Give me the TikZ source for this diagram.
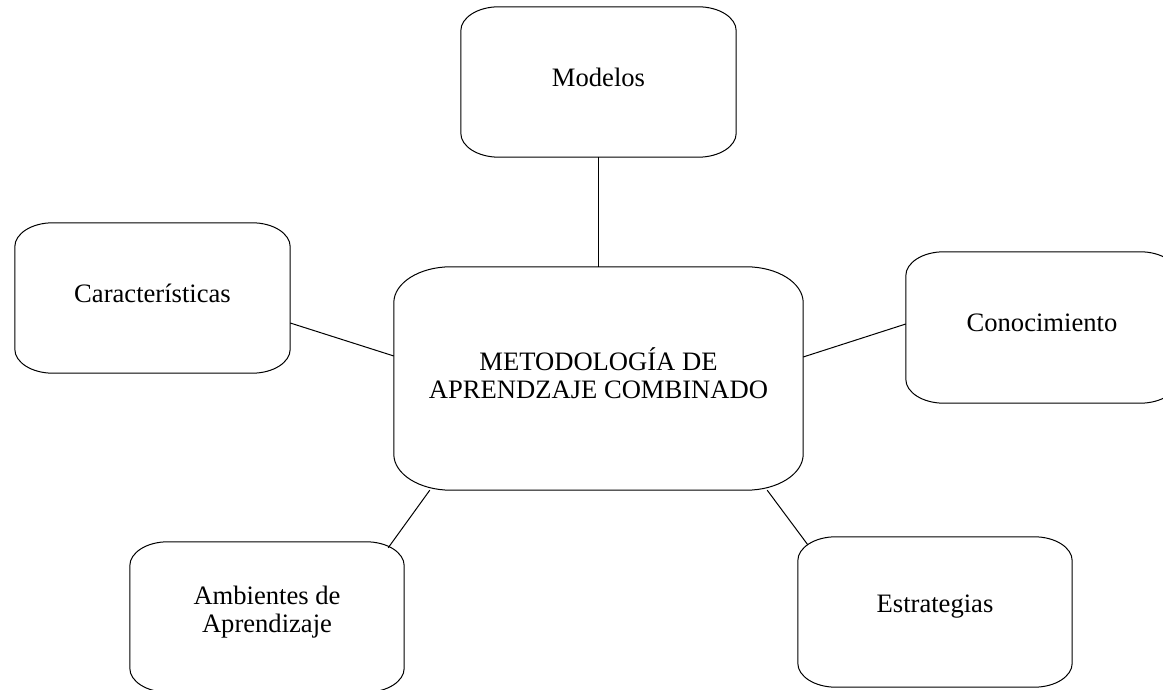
\documentclass[tikz,border=0pt]{standalone}
\usepackage{fontspec}
\setmainfont{Liberation Serif}
\tikzset{
  caja/.style={minimum width=275pt, minimum height=150pt, inner sep=0pt},
  cajagrande/.style={caja, minimum width=409pt, minimum height=223pt},
  texto/.style={align=center, yshift=5pt, font=\fontsize{26.6}{28}\selectfont},
  linea/.style={line width=1pt}
}
% Borde con esquinas elipticas: nombre, radio x, radio y
\newcommand{\bordecaja}[3]{%
  \draw[linea] ([xshift=#2]#1.north west) -- ([xshift=-#2]#1.north east)
    arc[start angle=90, end angle=0, x radius=#2, y radius=#3]
    -- ([yshift=#3]#1.south east)
    arc[start angle=0, end angle=-90, x radius=#2, y radius=#3]
    -- ([xshift=#2]#1.south west)
    arc[start angle=270, end angle=180, x radius=#2, y radius=#3]
    -- ([yshift=-#3]#1.north west)
    arc[start angle=180, end angle=90, x radius=#2, y radius=#3] -- cycle;}
\begin{document}
\begin{tikzpicture}[x=1pt,y=1pt]
\useasboundingbox (0,0) rectangle (1163,690);
% Nodo central del mapa
\node[cajagrande, label={[texto]center:METODOLOGÍA DE\\APRENDZAJE COMBINADO}] (meto) at (598.5,311.5) {};
% Nodos alrededor
\node[caja, label={[texto]center:Modelos}] (mod) at (598.5,608) {};
\node[caja, label={[texto]center:Características}] (car) at (152.5,392) {};
\node[caja, minimum width=272pt, minimum height=151pt, label={[texto]center:Conocimiento}] (con) at (1042,362.5) {};
\node[caja, minimum width=274pt, label={[texto]center:Ambientes de\\Aprendizaje}] (amb) at (267,73) {};
\node[caja, minimum width=274pt, label={[texto]center:Estrategias}] (est) at (935,78) {};
% Bordes
\bordecaja{meto}{57pt}{36pt}
\foreach \n in {mod,car,con,amb,est}
  \bordecaja{\n}{38pt}{24pt};
% Lineas que unen
\draw[linea] (mod.south) -- (meto.north);
\draw[linea] ([yshift=-25pt]car.east) -- ([yshift=22.5pt]meto.west);
\draw[linea] ([yshift=21.5pt]meto.east) -- ([yshift=3.5pt]con.west);
\draw[linea] ([xshift=36pt]meto.south west) -- ([xshift=-16pt,yshift=-6pt]amb.north east);
\draw[linea] ([xshift=-36pt]meto.south east) -- ([xshift=10pt,yshift=-8pt]est.north west);
\end{tikzpicture}
\end{document}
